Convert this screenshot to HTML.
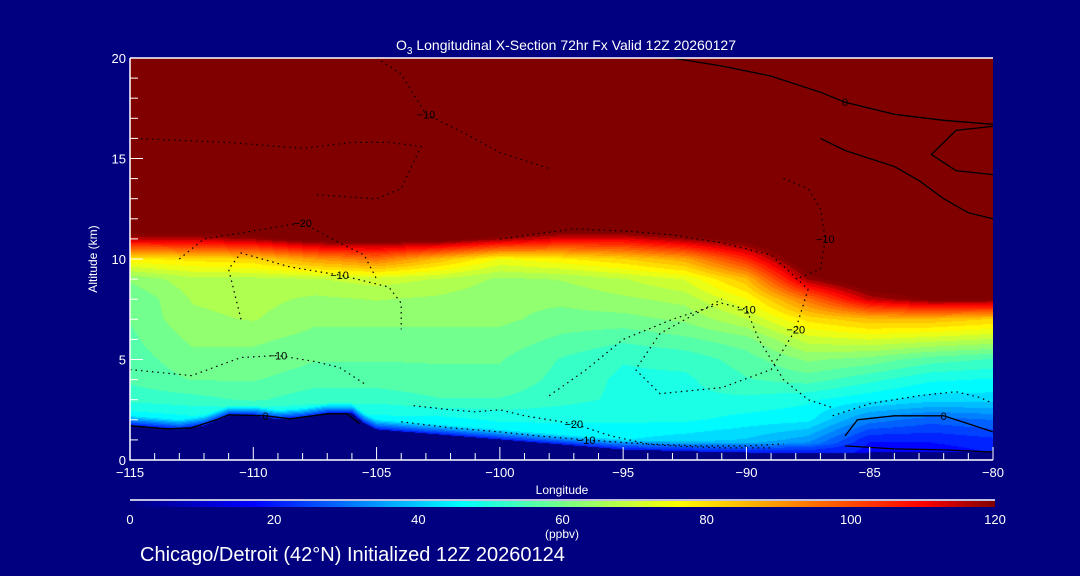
<!DOCTYPE html>
<html><head><meta charset="utf-8"><style>
html,body{margin:0;padding:0;background:#000080;}
#wrap{position:relative;width:1080px;height:576px;background:#000080;overflow:hidden;font-family:"Liberation Sans",sans-serif;color:#fff;}
svg{position:absolute;left:0;top:0}
</style></head><body>
<div id="wrap">
<canvas id="field" width="863" height="402" style="position:absolute;left:130px;top:58px"></canvas>
<canvas id="cbar" width="865" height="6" style="position:absolute;left:130px;top:501px"></canvas>
<svg id="ov" width="1080" height="576"></svg>
</div>
<script>
const lons=[-115,-112.5,-110,-107.5,-105,-102.5,-100,-97.5,-95,-92.5,-90,-87.5,-85,-82.5,-80];
const alts=[0,1,2,3,4,5,6,7,8,9,10,11,12,20];
const ozone=[
[30,30,30,30,30,30,30,30,30,28,25,22,15,15,18],
[38,38,38,38,38,40,42,44,44,42,40,35,20,20,22],
[44,46,44,46,46,46,48,48,48,48,46,45,32,28,30],
[52,53,55,52,52,54,54,52,50,50,50,48,45,42,42],
[55,58,58,56,56,57,57,53,50,50,54,56,52,48,47],
[56,60,60,58,58,58,58,54,51,52,56,62,60,56,54],
[57,62,62,60,60,60,60,57,55,57,60,70,72,70,68],
[58,64,65,62,62,62,62,60,60,62,68,80,85,85,82],
[58,65,66,64,65,64,62,62,64,66,75,95,115,122,122],
[62,67,67,68,70,68,64,65,68,72,85,118,130,130,130],
[78,80,82,90,95,85,75,78,82,88,105,130,135,135,135],
[115,115,118,125,125,125,118,112,112,118,125,135,140,140,140],
[140,140,140,140,140,140,140,140,140,140,140,140,140,140,140],
[150,150,150,150,150,150,150,150,150,150,150,150,150,150,150]];
const terrLon=[-115,-114,-113,-112,-111,-110,-109,-108,-107,-106,-105.5,-105,-102,-100,-97,-95,-92,-90,-87,-85,-80];
const terrAlt=[1.7,1.6,1.5,1.7,2.2,2.2,2.0,2.1,2.3,2.3,1.8,1.5,1.2,1.0,0.7,0.5,0.4,0.35,0.3,0.35,0.4];
const xTicks=[-115,-110,-105,-100,-95,-90,-85,-80];
const yTicks=[0,5,10,15,20];
const cbTicks=[0,20,40,60,80,100,120];
const contours=[
{label:"0",solid:true,lon:[-115,-113.5,-112.5,-111.5,-111,-109.5,-108.5,-107,-106.2,-105.7],alt:[1.7,1.55,1.6,2.0,2.25,2.2,2.05,2.3,2.3,1.8]},
{label:"0",solid:true,lon:[-86,-85.5,-84,-82,-81,-80],alt:[1.2,2.0,2.2,2.2,1.8,1.4]},
{label:"",solid:true,lon:[-86,-84,-82,-80],alt:[0.7,0.55,0.5,0.4]},
{label:"0",solid:true,lon:[-93,-91,-89,-87,-86,-84,-82,-80],alt:[20,19.6,19.1,18.3,17.8,17.2,16.9,16.7]},
{label:"",solid:true,lon:[-87,-86,-85,-84,-83,-82,-81,-80],alt:[16,15.4,15,14.6,13.9,13,12.3,12]},
{label:"",solid:true,lon:[-80,-81.5,-82.5,-81.5,-80],alt:[16.6,16.4,15.2,14.4,14.2]},
{label:"-10",solid:false,lon:[-105,-104,-103.5,-103,-101.5,-100,-98],alt:[20,19.2,18.2,17.2,16.3,15.3,14.5]},
{label:"",solid:false,lon:[-115,-111,-108,-106,-104.5,-103.2,-104,-105,-107.5],alt:[16,15.8,15.5,15.8,15.8,15.6,13.5,13,13.2]},
{label:"-20",solid:false,lon:[-113,-112,-111,-109,-108,-106.5,-105.5,-105],alt:[10,11,11.2,11.6,11.8,10.8,10.2,9]},
{label:"-10",solid:false,lon:[-110.5,-111,-110.5,-108.5,-106.5,-105.8,-104.5,-104,-104],alt:[7,9.5,10.3,9.6,9.2,9,8.6,7.8,6.5]},
{label:"-10",solid:false,lon:[-115,-112.5,-110.5,-109,-107.5,-106.5,-105.5],alt:[4.5,4.2,5.1,5.2,4.9,4.6,3.8]},
{label:"-20",solid:false,lon:[-100,-97,-95,-93,-91,-89,-87.5,-88,-89,-91,-93.5,-94.5,-93.5,-91],alt:[11,11.5,11.4,11.2,10.8,10.2,8.5,6.5,4.5,3.6,3.3,4.5,6.3,8]},
{label:"-20",solid:false,lon:[-103.5,-102,-101,-100,-99,-97,-95.5,-94,-92,-90,-88.5],alt:[2.7,2.5,2.4,2.5,2.2,1.8,1.2,0.8,0.7,0.7,0.8]},
{label:"-10",solid:false,lon:[-98,-96.5,-95,-93,-91,-90,-89.5,-88.5,-87.5,-86.5],alt:[3.2,4.5,6,7,7.8,7.5,6,4,3,2.6]},
{label:"",solid:false,lon:[-86.5,-85,-83,-81.5,-80.5,-80],alt:[2.2,2.8,3.2,3.4,3.1,2.8]},
{label:"-10",solid:false,lon:[-104,-102,-100,-98.5,-96.5,-93,-91,-89],alt:[1.9,1.6,1.4,1.2,1.0,0.7,0.6,0.6]},
{label:"-10",solid:false,lon:[-88.5,-87.5,-87,-86.8,-87,-88],alt:[14,13.5,12.5,11,9.5,9]}
];
const X0=130,X1=993,Y0=460,Y1=58;
const xs=l=>X0+(l+115)/35*(X1-X0);
const ys=a=>Y0-a/20*(Y0-Y1);
const jet=[[0,[0,0,128]],[17,[0,0,255]],[46,[0,255,255]],[61,[128,255,128]],[76,[255,255,0]],[110,[255,0,0]],[120,[128,0,0]]];
function col(v){v=Math.max(0,Math.min(120,v));for(let i=1;i<jet.length;i++){if(v<=jet[i][0]){const a=jet[i-1],b=jet[i],t=(v-a[0])/(b[0]-a[0]);return a[1].map((c,k)=>Math.round(c+(b[1][k]-c)*t));}}return [128,0,0];}
function interp1(xa,ya,x){if(x<=xa[0])return ya[0];for(let i=1;i<xa.length;i++)if(x<=xa[i]){const t=(x-xa[i-1])/(xa[i]-xa[i-1]);return ya[i-1]+(ya[i]-ya[i-1])*t;}return ya[ya.length-1];}
function idx(arr,v){for(let i=1;i<arr.length;i++)if(v<=arr[i])return [i-1,(v-arr[i-1])/(arr[i]-arr[i-1])];return [arr.length-2,1];}
function field(lon,alt){const [i,ti]=idx(lons,lon),[j,tj]=idx(alts,alt);
const a=ozone[j][i],b=ozone[j][i+1],c=ozone[j+1][i],d=ozone[j+1][i+1];
return (a*(1-ti)+b*ti)*(1-tj)+(c*(1-ti)+d*ti)*tj;}
(function(){const cv=document.getElementById('field'),cx=cv.getContext('2d'),W=cv.width,H=cv.height;const img=cx.createImageData(W,H);
for(let px=0;px<W;px++){const lon=-115+px/(W-1)*35,ter=interp1(terrLon,terrAlt,lon);
for(let py=0;py<H;py++){const alt=20-py/(H-1)*20;let v;
if(alt<ter)v=0;else{v=field(lon,alt);const dz=alt-ter;if(dz<0.5)v=Math.min(v,20+dz/0.5*(v-20));v=Math.round(v/3.5)*3.5;}
const c=col(v),k=(py*W+px)*4;img.data[k]=c[0];img.data[k+1]=c[1];img.data[k+2]=c[2];img.data[k+3]=255;}}
cx.putImageData(img,0,0);
const cb=document.getElementById('cbar'),cc=cb.getContext('2d');for(let px=0;px<cb.width;px++){const c=col(px/(cb.width-1)*120);cc.fillStyle=`rgb(${c})`;cc.fillRect(px,0,1,6);}})();
const svg=document.getElementById('ov'),NS='http://www.w3.org/2000/svg';
function mk(t,at,txt){const e=document.createElementNS(NS,t);for(const k in at)e.setAttribute(k,at[k]);if(txt!==undefined)e.textContent=txt;svg.appendChild(e);return e;}
contours.forEach((c,ci)=>{const pts=c.lon.map((l,i)=>xs(l).toFixed(1)+','+ys(c.alt[i]).toFixed(1)).join(' ');
const e=mk('polyline',{points:pts,fill:'none',stroke:'#000','stroke-width':c.solid?1.3:1.2,'stroke-dasharray':c.solid?'none':'1.5,4'});


if(c.label){const m=Math.floor(c.lon.length/2);const t=mk('text',{x:xs(c.lon[m]),y:ys(c.alt[m])+4,'font-size':11,fill:'#000','text-anchor':'middle'},c.label.replace('-','\u2212'));

}});
const ax=mk('path',{d:`M${X0},${Y1}H${X1}M${X0},${Y1}V${Y0}H${X1}`,stroke:'#fff','stroke-width':1.5,fill:'none'});


for(let l=-115;l<=-80;l++){const maj=(l%5===0);const t=mk('line',{x1:xs(l),x2:xs(l),y1:Y0,y2:Y0-(maj?13:7),stroke:'#fff','stroke-width':1});

}
xTicks.forEach(l=>{const t=mk('text',{x:xs(l),y:Y0+17,'font-size':13,fill:'#fff','text-anchor':'middle'},String(l).replace('-','\u2212'));

});
for(let a=0;a<=20;a++){const maj=(a%5===0);const t=mk('line',{x1:X0,x2:X0+(maj?13:8),y1:ys(a),y2:ys(a),stroke:'#fff','stroke-width':1});

}
yTicks.forEach(a=>{const t=mk('text',{x:X0-4,y:ys(a)+5,'font-size':13,fill:'#fff','text-anchor':'end'},String(a));

});
const cl=mk('line',{x1:130,x2:995,y1:500,y2:500,stroke:'#fff','stroke-width':1.5});


cbTicks.forEach(v=>{const t=mk('text',{x:130+v/120*865,y:524,'font-size':13,fill:'#fff','text-anchor':'middle'},String(v));

});
</script>
<svg width="1080" height="576" style="position:absolute;left:0;top:0;pointer-events:none">
<text x="566" y="50" font-size="14" fill="#fff" text-anchor="middle" font-family="Liberation Sans">O<tspan font-size="10" dy="4">3</tspan><tspan dy="-4"> Longitudinal X-Section 72hr  Fx Valid 12Z 20260127</tspan></text>
<text x="562" y="494" font-size="12" fill="#fff" text-anchor="middle" font-family="Liberation Sans">Longitude</text>
<text x="97" y="259" font-size="12" fill="#fff" text-anchor="middle" font-family="Liberation Sans" transform="rotate(-90 97 259)">Altitude (km)</text>
<text x="562" y="538" font-size="12" fill="#fff" text-anchor="middle" font-family="Liberation Sans">(ppbv)</text>
<text x="140" y="561" font-size="20" fill="#fff" font-family="Liberation Sans">Chicago/Detroit (42°N) Initialized 12Z 20260124</text>
</svg>
</body></html>
